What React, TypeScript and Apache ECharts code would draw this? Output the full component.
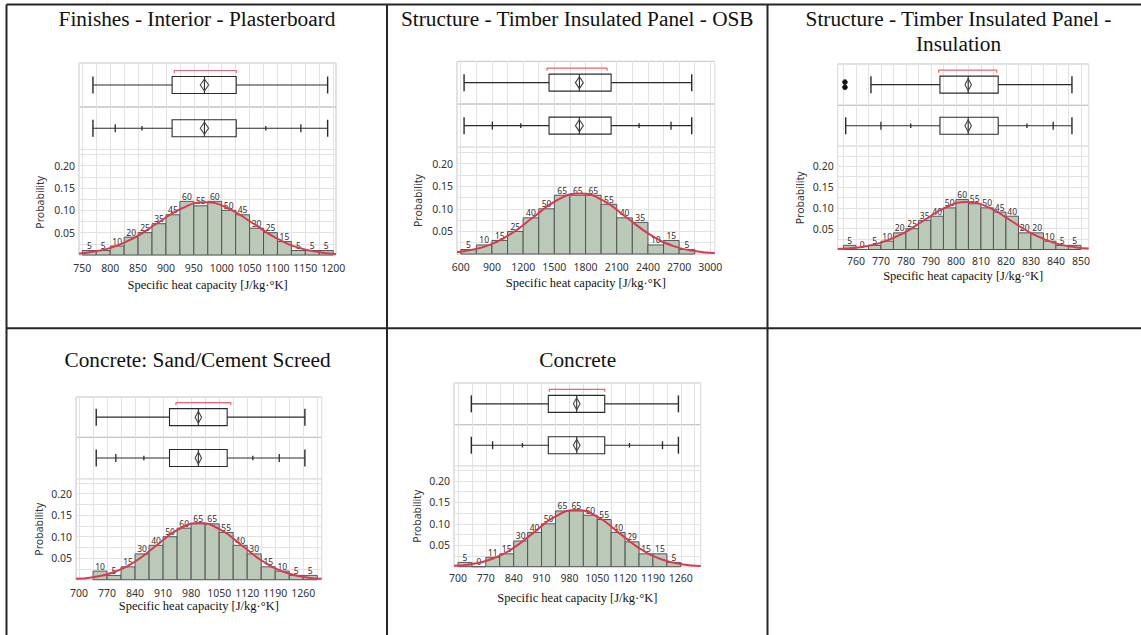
import React, { useEffect, useRef } from 'react';
import * as echarts from 'echarts';

// ---------------- Texts ----------------
const panelTitles = [
  'Finishes - Interior - Plasterboard',
  'Structure - Timber Insulated Panel - OSB',
  'Structure - Timber Insulated Panel -\nInsulation',
  'Concrete: Sand/Cement Screed',
  'Concrete',
];
const xAxisTitle = 'Specific heat capacity [J/kg·°K]';
const yAxisTitle = 'Probability';
const probabilityTicks = [0.05, 0.1, 0.15, 0.2];

// ---------------- Panel 1: Plasterboard ----------------
const plasterXTicks = [750, 800, 850, 900, 950, 1000, 1050, 1100, 1150, 1200];
const plasterBinStarts = [750, 775, 800, 825, 850, 875, 900, 925, 950, 975, 1000, 1025, 1050, 1075, 1100, 1125, 1150, 1175];
const plasterBinWidth = 25;
const plasterCounts = [5, 5, 10, 20, 25, 35, 45, 60, 55, 60, 50, 45, 30, 25, 15, 5, 5, 5];
const plasterBox = [769, 911, 969, 1026, 1190]; // whisker lo, Q1, median, Q3, whisker hi
const plasterMeanDiamond = [961.5, 969, 976.5];
const plasterShortestHalf = [915, 1026];
const plasterQuantiles = [769, 809, 857, 911, 969, 1026, 1079, 1142, 1190];
const plasterOutliers: number[] = [];
const plasterCurveX = [744, 758, 801, 843, 885, 928, 970, 1012, 1055, 1097, 1139, 1181, 1205];
const plasterCurveY = [0.0033, 0.0052, 0.016, 0.0383, 0.0716, 0.1041, 0.118, 0.1041, 0.0716, 0.0383, 0.016, 0.0052, 0.0025];

// ---------------- Panel 2: OSB ----------------
const osbXTicks = [600, 900, 1200, 1500, 1800, 2100, 2400, 2700, 3000];
const osbBinStarts = [600, 750, 900, 1050, 1200, 1350, 1500, 1650, 1800, 1950, 2100, 2250, 2400, 2550, 2700];
const osbBinWidth = 150;
const osbCounts = [5, 10, 15, 25, 40, 50, 65, 65, 65, 55, 40, 35, 10, 15, 5];
const osbBox = [632, 1449, 1741, 2046, 2821];
const osbMeanDiamond = [1703, 1741, 1779];
const osbShortestHalf = [1430, 2007];
const osbQuantiles = [632, 904, 1177, 1449, 1741, 2046, 2315, 2622, 2821];
const osbOutliers: number[] = [];
const osbCurveX = [564, 628, 851, 1075, 1298, 1522, 1745, 1969, 2192, 2416, 2639, 2863, 3042];
const osbCurveY = [0.0041, 0.0059, 0.0181, 0.0435, 0.0813, 0.1183, 0.134, 0.1183, 0.0813, 0.0435, 0.0181, 0.0059, 0.002];

// ---------------- Panel 3: Insulation ----------------
const insXTicks = [760, 770, 780, 790, 800, 810, 820, 830, 840, 850];
const insBinStarts = [755, 760, 765, 770, 775, 780, 785, 790, 795, 800, 805, 810, 815, 820, 825, 830, 835, 840, 845];
const insBinWidth = 5;
const insCounts = [5, 0, 5, 10, 20, 25, 35, 40, 50, 60, 55, 50, 45, 40, 20, 20, 10, 5, 5];
const insBox = [766, 793.6, 804.9, 816.9, 846.4];
const insMeanDiamond = [803.6, 804.9, 806.2];
const insShortestHalf = [793.1, 816.3];
const insQuantiles = [755.9, 770, 781.9, 793.6, 804.9, 816.9, 828.4, 838.9, 846.4];
const insOutliers = [755.6, 755.6];
const insCurveX = [752.7, 760.8, 769.5, 778.3, 787, 795.8, 804.5, 813.3, 822, 830.8, 839.5, 848.3, 853.1];
const insCurveY = [0.0014, 0.005, 0.0154, 0.037, 0.0691, 0.1006, 0.114, 0.1006, 0.0691, 0.037, 0.0154, 0.005, 0.0024];

// ---------------- Panel 4: Sand/Cement Screed ----------------
const screedXTicks = [700, 770, 840, 910, 980, 1050, 1120, 1190, 1260];
const screedBinStarts = [735, 770, 805, 840, 875, 910, 945, 980, 1015, 1050, 1085, 1120, 1155, 1190, 1225, 1260];
const screedBinWidth = 35;
const screedCounts = [10, 5, 15, 30, 40, 50, 60, 65, 65, 55, 40, 30, 15, 10, 5, 5];
const screedBox = [743, 926, 998, 1070, 1264];
const screedMeanDiamond = [990, 998, 1006];
const screedShortestHalf = [942, 1079];
const screedQuantiles = [743, 792, 862, 926, 998, 1070, 1134, 1200, 1264];
const screedOutliers: number[] = [];
const screedCurveX = [692.5, 735, 788, 841, 894, 947, 1000, 1053, 1106, 1159, 1212, 1265, 1306];
const screedCurveY = [0.002, 0.0058, 0.0179, 0.0429, 0.0801, 0.1165, 0.132, 0.1165, 0.0801, 0.0429, 0.0179, 0.0058, 0.002];

// ---------------- Panel 5: Concrete ----------------
const concreteXTicks = [700, 770, 840, 910, 980, 1050, 1120, 1190, 1260];
const concreteBinStarts = [700, 735, 770, 805, 840, 875, 910, 945, 980, 1015, 1050, 1085, 1120, 1155, 1190, 1225];
const concreteBinWidth = 35;
const concreteCounts = [5, 0, 11, 15, 30, 40, 50, 65, 65, 60, 55, 40, 29, 15, 15, 5];
const concreteBox = [733.5, 927, 998.4, 1068.8, 1254];
const concreteMeanDiamond = [990, 998.4, 1006.8];
const concreteShortestHalf = [929.7, 1068.8];
const concreteQuantiles = [733.5, 787, 862, 927, 998.4, 1068.8, 1131, 1214, 1254];
const concreteOutliers: number[] = [];
const concreteCurveX = [690, 732, 785, 838, 891, 944, 997, 1050, 1103, 1156, 1209, 1262, 1310];
const concreteCurveY = [0.002, 0.0058, 0.0179, 0.0429, 0.0801, 0.1165, 0.132, 0.1165, 0.0801, 0.0429, 0.0179, 0.0058, 0.0017];

const panels = [
  { xTicks: plasterXTicks, binStarts: plasterBinStarts, binWidth: plasterBinWidth, counts: plasterCounts, box: plasterBox, diamond: plasterMeanDiamond, shortest: plasterShortestHalf, quantiles: plasterQuantiles, outliers: plasterOutliers, curveX: plasterCurveX, curveY: plasterCurveY },
  { xTicks: osbXTicks, binStarts: osbBinStarts, binWidth: osbBinWidth, counts: osbCounts, box: osbBox, diamond: osbMeanDiamond, shortest: osbShortestHalf, quantiles: osbQuantiles, outliers: osbOutliers, curveX: osbCurveX, curveY: osbCurveY },
  { xTicks: insXTicks, binStarts: insBinStarts, binWidth: insBinWidth, counts: insCounts, box: insBox, diamond: insMeanDiamond, shortest: insShortestHalf, quantiles: insQuantiles, outliers: insOutliers, curveX: insCurveX, curveY: insCurveY },
  { xTicks: screedXTicks, binStarts: screedBinStarts, binWidth: screedBinWidth, counts: screedCounts, box: screedBox, diamond: screedMeanDiamond, shortest: screedShortestHalf, quantiles: screedQuantiles, outliers: screedOutliers, curveX: screedCurveX, curveY: screedCurveY },
  { xTicks: concreteXTicks, binStarts: concreteBinStarts, binWidth: concreteBinWidth, counts: concreteCounts, box: concreteBox, diamond: concreteMeanDiamond, shortest: concreteShortestHalf, quantiles: concreteQuantiles, outliers: concreteOutliers, curveX: concreteCurveX, curveY: concreteCurveY },
];

// ---------------- Layout (positions / axis extents) ----------------
const layouts = [
  { left: 79, right: 336, top: 63, div1: 107, div2: 149.5, bottom: 255, xMin: 744, xMax: 1205, step: 25, yMax: 0.236, labelMargin: 7, xNameGap: 23, yNameGap: 34, titleX: 197, titleY: 19 },
  { left: 457, right: 714.7, top: 61.3, div1: 104, div2: 147.3, bottom: 254, xMin: 564, xMax: 3042, step: 150, yMax: 0.236, labelMargin: 7.5, xNameGap: 22, yNameGap: 34, titleX: 577.3, titleY: 18.5 },
  { left: 837.7, right: 1088.7, top: 64, div1: 105.3, div2: 146.3, bottom: 249.5, xMin: 752.7, xMax: 853.1, step: 5, yMax: 0.248, labelMargin: 6, xNameGap: 19.5, yNameGap: 32.5, titleX: 958.5, titleY: 31.8 },
  { left: 76, right: 321.7, top: 397, div1: 437.3, div2: 478.7, bottom: 579.7, xMin: 692.5, xMax: 1306, step: 35, yMax: 0.235, labelMargin: 8, xNameGap: 18.5, yNameGap: 32, titleX: 197.5, titleY: 360.3 },
  { left: 454, right: 700.7, top: 383, div1: 424.7, div2: 465.7, bottom: 566.7, xMin: 690, xMax: 1310, step: 35, yMax: 0.2355, labelMargin: 5.5, xNameGap: 24.5, yNameGap: 32, titleX: 577.7, titleY: 360.3 },
];

const SANS = '"Noto Sans", "Open Sans", sans-serif';
const SERIF = '"Liberation Serif", "Times New Roman", serif';
const LINE = '#2a2a2a';
const RED_BRACKET = '#ef6175';
const RED_CURVE = '#d93a50';
const BAR_FILL = '#bbc9b9';
const BAR_EDGE = '#555555';
const GRID_BORDER = '#c4c4c4';
const SPLIT = '#e3e3e3';

const BOX_H = 8.5;
const DIAMOND_H = 6;

function ln(x1: number, y1: number, x2: number, y2: number, stroke = LINE, lineWidth = 1.1) {
  return { type: 'line', shape: { x1, y1, x2, y2 }, style: { stroke, lineWidth } };
}

function makeOutlierBoxRenderer(outliers: number[]) {
  return (_params: any, api: any) => {
    const X = (v: number) => api.coord([v, 0.5])[0];
    const cy = api.coord([api.value(0), 0.5])[1];
    const v = Array.from({ length: 10 }, (_, i) => X(api.value(i)));
    const [lo, q1, md, q3, hi, mLo, mn, mHi, s0, s1] = v;
    const by = cy - 14.5;
    const children: any[] = [
      ln(lo, cy, q1, cy),
      ln(q3, cy, hi, cy),
      ln(lo, cy - BOX_H, lo, cy + BOX_H, LINE, 1.4),
      ln(hi, cy - BOX_H, hi, cy + BOX_H, LINE, 1.4),
      { type: 'rect', shape: { x: q1, y: cy - BOX_H, width: q3 - q1, height: 2 * BOX_H }, style: { fill: 'none', stroke: LINE, lineWidth: 1.1 } },
      ln(md, cy - BOX_H, md, cy + BOX_H),
      { type: 'polygon', shape: { points: [[mLo, cy], [mn, cy - DIAMOND_H], [mHi, cy], [mn, cy + DIAMOND_H]] }, style: { fill: 'none', stroke: '#444', lineWidth: 1.1 } },
      ln(s0, by, s1, by, RED_BRACKET, 1.2),
      ln(s0, by - 0.5, s0, by + 2.5, RED_BRACKET, 1.2),
      ln(s1, by - 0.5, s1, by + 2.5, RED_BRACKET, 1.2),
    ];
    outliers.forEach((o, i) => {
      const off = (i - (outliers.length - 1) / 2) * 5.2;
      children.push({ type: 'circle', shape: { cx: X(o), cy: cy + off, r: 2.5 }, style: { fill: '#111', stroke: '#111', lineWidth: 0.5 } });
    });
    return { type: 'group', children };
  };
}

function renderQuantileBox(_params: any, api: any) {
  const X = (v: number) => api.coord([v, 0.5])[0];
  const cy = api.coord([api.value(0), 0.5])[1];
  const v = Array.from({ length: 12 }, (_, i) => X(api.value(i)));
  const [mnX, p025, p10, q1, md, q3, p90, p975, mxX, mLo, mean, mHi] = v;
  const children: any[] = [
    ln(mnX, cy, q1, cy),
    ln(q3, cy, mxX, cy),
    ln(mnX, cy - BOX_H, mnX, cy + BOX_H, LINE, 1.4),
    ln(mxX, cy - BOX_H, mxX, cy + BOX_H, LINE, 1.4),
    ln(p025, cy - 4, p025, cy + 4, LINE, 1.3),
    ln(p975, cy - 4, p975, cy + 4, LINE, 1.3),
    ln(p10, cy - 2.3, p10, cy + 2.3, LINE, 1.3),
    ln(p90, cy - 2.3, p90, cy + 2.3, LINE, 1.3),
    { type: 'rect', shape: { x: q1, y: cy - BOX_H, width: q3 - q1, height: 2 * BOX_H }, style: { fill: 'none', stroke: LINE, lineWidth: 1.1 } },
    ln(md, cy - BOX_H, md, cy + BOX_H),
    { type: 'polygon', shape: { points: [[mLo, cy], [mean, cy - DIAMOND_H], [mHi, cy], [mean, cy + DIAMOND_H]] }, style: { fill: 'none', stroke: '#444', lineWidth: 1.1 } },
  ];
  return { type: 'group', children };
}

function renderBar(_params: any, api: any) {
  const s = api.value(0);
  const e = api.value(1);
  const p = api.value(2);
  const c = api.value(3);
  const tl = api.coord([s, p]);
  const br = api.coord([e, 0]);
  return {
    type: 'group',
    children: [
      { type: 'rect', shape: { x: tl[0], y: tl[1], width: br[0] - tl[0], height: br[1] - tl[1] }, style: { fill: BAR_FILL, stroke: BAR_EDGE, lineWidth: 1 } },
      { type: 'text', x: (tl[0] + br[0]) / 2, y: tl[1] - 0.5, style: { text: String(c), fill: '#2e2e2e', fontSize: 8.5, fontFamily: SANS, align: 'center', verticalAlign: 'bottom' } },
    ],
  };
}

function buildOption() {
  const grids: any[] = [];
  const xAxes: any[] = [];
  const yAxes: any[] = [];
  const series: any[] = [];
  const graphics: any[] = [];

  panels.forEach((p, k) => {
    const L = layouts[k];
    const w = L.right - L.left;
    const sections = [[L.top, L.div1], [L.div1, L.div2], [L.div2, L.bottom]];
    sections.forEach(([t, b], s) => {
      const gi = 3 * k + s;
      const isHist = s === 2;
      grids.push({ left: L.left, top: t, width: w, height: b - t, show: true, borderColor: GRID_BORDER, borderWidth: 1, backgroundColor: 'rgba(0,0,0,0)', containLabel: false });
      xAxes.push({
        type: 'value', gridIndex: gi, min: L.xMin, max: L.xMax, minInterval: L.step, maxInterval: L.step,
        axisLine: { show: false }, axisTick: { show: false },
        splitLine: { show: true, lineStyle: { color: SPLIT, width: 1 } },
        axisLabel: isHist
          ? {
              show: true, margin: L.labelMargin, color: '#333', fontSize: 10.5, fontFamily: SANS,
              formatter: (val: number) => (p.xTicks.some((tk) => Math.abs(tk - val) < 1e-6) ? String(Math.round(val)) : ''),
            }
          : { show: false },
        name: isHist ? xAxisTitle : '',
        nameLocation: 'middle', nameGap: L.xNameGap,
        nameTextStyle: { fontFamily: SERIF, fontSize: 12.5, color: '#111' },
      });
      if (isHist) {
        yAxes.push({
          type: 'value', gridIndex: gi, min: 0, max: L.yMax, minInterval: 0.025, maxInterval: 0.025,
          axisLine: { show: false }, axisTick: { show: false },
          splitLine: { show: true, lineStyle: { color: SPLIT, width: 1 } },
          axisLabel: {
            margin: 4, color: '#333', fontSize: 10.5, fontFamily: SANS,
            formatter: (val: number) => (probabilityTicks.some((tk) => Math.abs(tk - val) < 1e-6) ? val.toFixed(2) : ''),
          },
          name: yAxisTitle, nameLocation: 'middle', nameGap: L.yNameGap, nameRotate: 90,
          nameTextStyle: { fontFamily: SANS, fontSize: 10.5, color: '#333' },
        });
      } else {
        yAxes.push({ type: 'value', gridIndex: gi, min: 0, max: 1, show: false });
      }
    });

    const total = p.counts.reduce((a, b) => a + b, 0);
    series.push({
      type: 'custom', xAxisIndex: 3 * k, yAxisIndex: 3 * k,
      renderItem: makeOutlierBoxRenderer(p.outliers),
      data: [[...p.box, ...p.diamond, ...p.shortest]], z: 3,
    });
    series.push({
      type: 'custom', xAxisIndex: 3 * k + 1, yAxisIndex: 3 * k + 1,
      renderItem: renderQuantileBox,
      data: [[...p.quantiles, ...p.diamond]], z: 3,
    });
    series.push({
      type: 'custom', xAxisIndex: 3 * k + 2, yAxisIndex: 3 * k + 2,
      renderItem: renderBar,
      data: p.binStarts.map((st, i) => [st, st + p.binWidth, p.counts[i] / total, p.counts[i]]), z: 3,
    });
    series.push({
      type: 'line', xAxisIndex: 3 * k + 2, yAxisIndex: 3 * k + 2,
      data: p.curveX.map((x, i) => [x, p.curveY[i]]),
      smooth: true, symbol: 'none', lineStyle: { color: RED_CURVE, width: 2 }, z: 5, silent: true,
    });

    graphics.push({
      type: 'text', x: L.titleX, y: L.titleY,
      style: { text: panelTitles[k], fill: '#111', fontSize: 21.3, fontFamily: SERIF, align: 'center', verticalAlign: 'middle', lineHeight: 25 },
    });
  });

  const border = { stroke: '#262626', lineWidth: 2 };
  const tableLines = [
    [6.5, 4.5, 1141, 4.5],
    [6.5, 328.3, 1141, 328.3],
    [6.5, 4.5, 6.5, 635],
    [387, 4.5, 387, 635],
    [767.5, 4.5, 767.5, 635],
  ];
  tableLines.forEach(([x1, y1, x2, y2]) => graphics.push({ type: 'line', shape: { x1, y1, x2, y2 }, style: border, z: 10 }));

  return {
    animation: false,
    backgroundColor: '#ffffff',
    grid: grids,
    xAxis: xAxes,
    yAxis: yAxes,
    series,
    graphic: graphics,
  };
}

export default function App() {
  const ref = useRef<HTMLDivElement>(null);
  useEffect(() => {
    if (!ref.current) return;
    const chart = echarts.init(ref.current, undefined, { renderer: 'svg' });
    chart.setOption(buildOption() as any);
    return () => chart.dispose();
  }, []);
  return <div ref={ref} style={{ position: 'absolute', left: 0, top: 0, width: 1141, height: 635, background: '#fff' }} />;
}
